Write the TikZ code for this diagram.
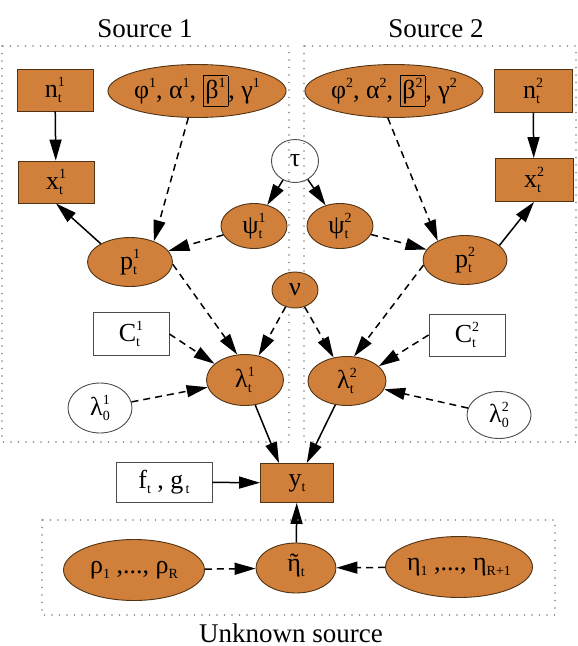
\documentclass[tikz,border=0pt]{standalone}
\usepackage{fontspec}
\setmainfont{Liberation Serif}
\usetikzlibrary{shapes.geometric,arrows.meta}
\definecolor{nodeor}{RGB}{208,128,58}
\definecolor{nodebd}{RGB}{80,50,20}
\definecolor{dotgray}{RGB}{130,130,130}
\newcommand\scf{\fontsize{14}{14}\selectfont}
\newcommand\xss[3]{#1\raisebox{-0.22em}{\scf\vbox{\baselineskip=16.6pt\lineskiplimit=-30pt\lineskip=0pt\hbox{#2}\hbox{#3}}}}
\newcommand\xsp[2]{#1\raisebox{0.42em}{\scf #2}}
\newcommand\xsb[2]{#1\raisebox{-0.22em}{\scf #2}}
\newcommand\tileta{\ooalign{η\cr\hidewidth˜\hidewidth\cr}}
\newcommand\bbx[1]{{\setlength\fboxrule{0.8pt}\setlength\fboxsep{2pt}\fbox{#1}}}
\begin{document}
\begin{tikzpicture}[x=1pt,y=-1pt,
 base/.style={font=\fontsize{26}{30}\selectfont, inner sep=0pt, line width=0.9pt},
 obox/.style={base, rectangle, fill=nodeor, draw=nodebd},
 oell/.style={base, ellipse, fill=nodeor, draw=nodebd},
 wbox/.style={base, rectangle, fill=white, draw=black!70},
 well/.style={base, ellipse, fill=white, draw=black!70},
 sz/.style 2 args={minimum width=#1pt, minimum height=#2pt},
 solidarr/.style={-{Triangle[length=21pt,width=12pt]}, line width=1.5pt},
 dasharr/.style={solidarr, dash pattern=on 7pt off 5pt},
 dotbox/.style={draw=dotgray, line width=1.8pt, dash pattern=on 0pt off 7.5pt, line cap=round},
 lab/.style={font=\fontsize{27}{30}\selectfont, inner sep=0pt}]
\useasboundingbox (0,0) rectangle (578,646);

% labels
\node[lab] (s1) at (145,29) {Source 1};
\node[lab] (s2) at (436,29) {Source 2};
\node[lab] (s3) at (291,633) {Unknown source};

% source 1
\node[obox, sz={76}{42}] (n1) at (55,90) {\xss{n}{1}{t}};
\node[obox, sz={76}{42}] (x1) at (56,182) {\xss{x}{1}{t}};
\node[oell, sz={166}{53}] (par1) at (197,91) {\xsp{φ}{1}, \xsp{α}{1}, \bbx{\xsp{β}{1}}, \xsp{γ}{1}};
\node[oell, sz={85}{49}] (p1) at (130,262) {\xss{p}{1}{t}};
\node[oell, sz={66}{45}] (psi1) at (254,226) {\xss{ψ}{1}{t}};
\node[wbox, sz={76}{43}] (C1) at (131,334) {\xss{C}{1}{t}};
\node[oell, sz={77}{51}] (lam1) at (245,380) {\xss{λ}{1}{t}};
\node[well, sz={64}{50}] (l01) at (100,408) {\xss{λ}{1}{0}};

% shared
\node[well, sz={47}{43}] (tau) at (295,161) {τ};
\node[oell, sz={46}{36}] (nu) at (295,290) {ν};

% source 2
\node[obox, sz={78}{43}] (n2) at (533,91) {\xss{n}{2}{t}};
\node[obox, sz={78}{43}] (x2) at (534,180) {\xss{x}{2}{t}};
\node[oell, sz={166}{53}] (par2) at (394,91) {\xsp{φ}{2}, \xsp{α}{2}, \bbx{\xsp{β}{2}}, \xsp{γ}{2}};
\node[oell, sz={84}{49}] (p2) at (465,260) {\xss{p}{2}{t}};
\node[oell, sz={66}{45}] (psi2) at (340,226) {\xss{ψ}{2}{t}};
\node[wbox, sz={76}{42}] (C2) at (467,335) {\xss{C}{2}{t}};
\node[oell, sz={78}{49}] (lam2) at (347,381) {\xss{λ}{2}{t}};
\node[well, sz={64}{47}] (l02) at (499,415) {\xss{λ}{2}{0}};

% observation
\node[wbox, sz={96}{40}] (fg) at (164,482) {\xsb{f}{t} , \xsb{g}{\,t}};
\node[obox, sz={73}{39}] (y) at (297,483) {\xsb{y}{t}};

% unknown source
\node[oell, sz={141}{61}] (rho) at (134,570) {\xsb{ρ}{1} ,..., \xsb{ρ}{R}};
\node[oell, sz={80}{50}] (etat) at (296,568) {\xsb{\tileta}{t}};
\node[oell, sz={142}{61}] (eta) at (459,567) {\xsb{η}{1} ,..., \xsb{η}{R+1}};

% edges
\draw[solidarr] (n1) -- (x1);
\draw[solidarr] (p1.148) -- (x1.south);
\draw[dasharr] (par1.252) -- (p1.41);
\draw[solidarr] (tau) -- (psi1);
\draw[solidarr] (tau) -- (psi2);
\draw[dasharr] (psi1) -- (p1);
\draw[dasharr] (psi2) -- (p2);
\draw[dasharr] (p1.-3) -- (lam1.107);
\draw[dasharr] (p2.187) -- (lam2.74);
\draw[dasharr] (nu) -- (lam1);
\draw[dasharr] (nu) -- (lam2);
\draw[dasharr] (C1.east) -- (lam1.152);
\draw[dasharr] (C2.west) -- (lam2.25);
\draw[dasharr] (l01) -- (lam1);
\draw[dasharr] (l02) -- (lam2);
\draw[solidarr] (lam1) -- (y.132);
\draw[solidarr] (lam2) -- (y);
\draw[solidarr] (fg) -- (y);
\draw[solidarr] (etat) -- (y);
\draw[dasharr] (rho) -- (etat);
\draw[dasharr] (eta) -- (etat);
\draw[solidarr] (n2) -- (x2);
\draw[solidarr] (p2.23) -- (x2.south);
\draw[dasharr] (par2.257) -- (p2.145);

% dotted groups
\draw[dotbox] (2,46) rectangle (289,442);
\draw[dotbox] (304,46) rectangle (576,442);
\draw[dotbox] (42,520) rectangle (555,615);
\end{tikzpicture}
\end{document}
